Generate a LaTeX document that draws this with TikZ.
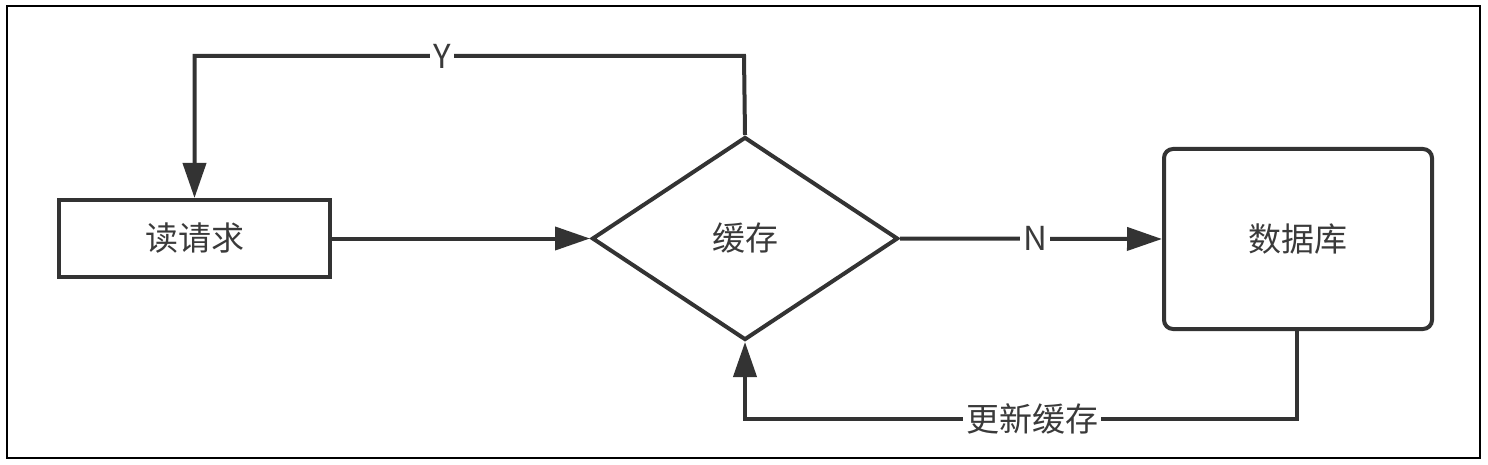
\documentclass[tikz,border=0pt]{standalone}
\usepackage{fontspec}
\setmainfont{Noto Sans CJK SC}
\usetikzlibrary{shapes.geometric,arrows.meta}
\definecolor{ink}{HTML}{333333}
\definecolor{txt}{HTML}{3A3A3A}
\tikzset{
  shapebox/.style={draw=ink, line width=4pt, text=txt, inner sep=0pt, font=\fontsize{33}{38}\selectfont},
  conn/.style={draw=ink, line width=4pt},
  arr/.style={conn, -{Triangle[length=35pt,width=23pt]}},
  lbl/.style={fill=white, text=txt, inner sep=3pt, font=\fontsize{33}{38}\selectfont},
}
\begin{document}
\begin{tikzpicture}[x=1pt,y=-1pt]
\useasboundingbox (0,0) rectangle (1488,465);
\draw[black, line width=2pt] (7,6) rectangle (1480,458);
\node[shapebox, rectangle, minimum width=271pt, minimum height=77pt] (req) at (194.5,238.5) {读请求};
\node[shapebox, diamond, minimum width=306pt, minimum height=203pt] (cache) at (745,238.5) {缓存};
\node[shapebox, rectangle, rounded corners=9pt, minimum width=268pt, minimum height=180pt] (db) at (1298,239) {数据库};
\coordinate (ytop) at (744,56);
\coordinate (ubot) at (1297,419);
\draw[arr] (req.east) -- (cache.west);
\draw[arr] (cache.north) -- (ytop) -- node[lbl, pos=0.55] {Y} (req.north |- ytop) -- (req.north);
\draw[arr] (cache.east) -- node[lbl, pos=0.515] {N} (db.west);
\draw[arr] (db.south -| ubot) -- (ubot) -- node[lbl, pos=0.48] {更新缓存} (cache.south |- ubot) -- (cache.south);
\end{tikzpicture}
\end{document}
